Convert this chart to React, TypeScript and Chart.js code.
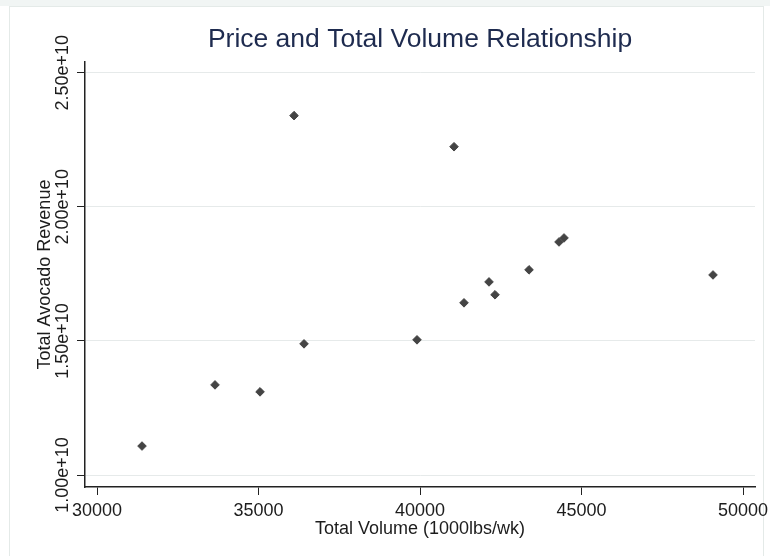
import React, { useEffect, useRef } from 'react';
import { Chart, registerables } from 'chart.js';

Chart.register(...registerables);

// Weekly volume vs. total revenue
const volume = [31393, 33653, 35047, 36100, 36409, 39907, 41053, 41362, 42136, 42322, 43375, 44303, 44458, 49071];
const revenue = [1.108e10, 1.336e10, 1.31e10, 2.34e10, 1.489e10, 1.504e10, 2.224e10, 1.642e10, 1.72e10, 1.672e10, 1.765e10, 1.869e10, 1.884e10, 1.746e10];

const xTickValues = [30000, 35000, 40000, 45000, 50000];
const xTickLabels = ['30000', '35000', '40000', '45000', '50000'];
const yTickValues = [1.0e10, 1.5e10, 2.0e10, 2.5e10];
const yTickLabels = ['1.00e+10', '1.50e+10', '2.00e+10', '2.50e+10'];

const xRange = [29628, 50371];
const yRange = [0.9553e10, 2.54e10];

const chartTitle = 'Price and Total Volume Relationship';
const xTitle = 'Total Volume (1000lbs/wk)';
const yTitle = 'Total Avocado Revenue';

const FONT = "'Liberation Sans', Arial, sans-serif";
const TEXT = '#1c1c1c';
const AXIS = '#222222';
const GRID = '#e6eaea';
const MARKER = '#444444';
const TITLE = '#1e2b4f';

// Vertical tick labels and axis title for the y axis
const verticalYText = {
  id: 'verticalYText',
  afterDraw(chart: any) {
    const scale = chart.scales.y;
    const area = chart.chartArea;
    const ctx = chart.ctx as CanvasRenderingContext2D;
    ctx.save();
    ctx.fillStyle = TEXT;
    ctx.font = `18px ${FONT}`;
    ctx.textAlign = 'center';
    ctx.textBaseline = 'alphabetic';
    yTickValues.forEach((v, i) => {
      const y = scale.getPixelForValue(v);
      ctx.save();
      ctx.translate(scale.right - 17, y);
      ctx.rotate(-Math.PI / 2);
      ctx.fillText(yTickLabels[i], 0, 0);
      ctx.restore();
    });
    ctx.translate(scale.left + 50, (area.top + area.bottom) / 2);
    ctx.rotate(-Math.PI / 2);
    ctx.fillText(yTitle, 0, 0);
    ctx.restore();
  },
};

export default function App() {
  const canvasRef = useRef<HTMLCanvasElement | null>(null);

  useEffect(() => {
    const canvas = canvasRef.current;
    if (!canvas) return;
    const chart = new Chart(canvas, {
      type: 'scatter',
      data: {
        datasets: [
          {
            data: volume.map((x, i) => ({ x, y: revenue[i] })),
            pointStyle: 'rectRot',
            pointRadius: 4.3,
            pointBorderWidth: 1,
            backgroundColor: MARKER,
            borderColor: MARKER,
          },
        ],
      },
      options: {
        responsive: false,
        animation: false,
        devicePixelRatio: 1,
        layout: { padding: { top: 0, right: 15, bottom: 0, left: 0 } },
        plugins: {
          legend: { display: false },
          tooltip: { enabled: false },
          title: {
            display: true,
            text: chartTitle,
            fullSize: false,
            color: TITLE,
            font: { family: FONT, size: 26.5, weight: 'normal', lineHeight: 1.2 },
            padding: { top: 24, bottom: 6.2 },
          },
        },
        scales: {
          x: {
            type: 'linear',
            position: 'bottom',
            min: xRange[0],
            max: xRange[1],
            afterBuildTicks: (s: any) => {
              s.ticks = xTickValues.map((value) => ({ value }));
            },
            afterFit: (s: any) => {
              s.height = 69;
              s.paddingLeft = 0;
              s.paddingRight = 0;
            },
            ticks: {
              callback: (_v: any, i: number) => xTickLabels[i],
              font: { family: FONT, size: 18 },
              color: TEXT,
              padding: 5,
              maxRotation: 0,
              autoSkip: false,
            },
            grid: { drawOnChartArea: false, tickColor: AXIS, tickLength: 8, lineWidth: 1 },
            border: { color: AXIS, width: 1.5 },
            title: {
              display: true,
              text: xTitle,
              color: TEXT,
              font: { family: FONT, size: 18 },
              padding: { top: 0, bottom: 16 },
            },
          },
          y: {
            type: 'linear',
            min: yRange[0],
            max: yRange[1],
            afterBuildTicks: (s: any) => {
              s.ticks = yTickValues.map((value) => ({ value }));
            },
            afterFit: (s: any) => {
              s.width = 85;
              s.paddingTop = 0;
              s.paddingBottom = 0;
            },
            ticks: { display: false },
            grid: { color: GRID, tickColor: AXIS, tickLength: 8, lineWidth: 1 },
            border: { color: AXIS, width: 1.5 },
          },
        },
      },
      plugins: [verticalYText],
    } as any);
    return () => chart.destroy();
  }, []);

  return (
    <div
      style={{
        position: 'fixed',
        left: 0,
        top: 0,
        width: 770,
        height: 556,
        background: '#ffffff',
        overflow: 'hidden',
      }}
    >
      <div style={{ position: 'absolute', left: 0, top: 0, right: 0, height: 6, background: '#f1f5f4' }} />
      <div
        style={{
          position: 'absolute',
          left: 9,
          top: 6,
          right: 6,
          bottom: -10,
          border: '1px solid #e4eae8',
        }}
      />
      <canvas ref={canvasRef} width={770} height={556} style={{ position: 'absolute', left: 0, top: 0 }} />
    </div>
  );
}
